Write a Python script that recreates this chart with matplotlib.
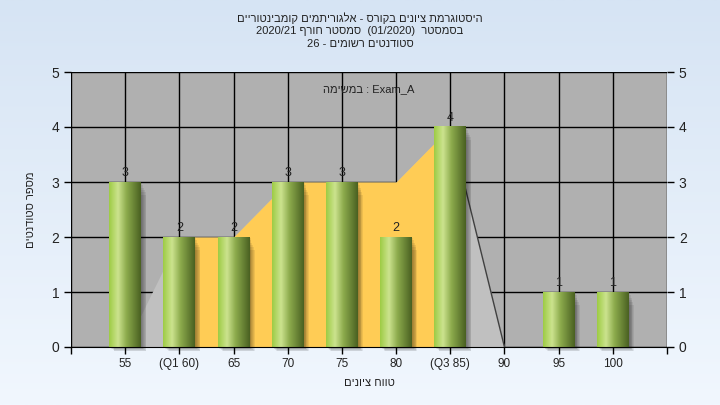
import matplotlib
matplotlib.use("Agg")
import matplotlib.pyplot as plt
import numpy as np
from matplotlib.colors import LinearSegmentedColormap

plt.rcParams['font.family'] = ['Liberation Sans', 'DejaVu Sans']

# data
grades = ['55', '(Q1 60)', '65', '70', '75', '80', '(Q3 85)', '90', '95', '100']
counts = [3, 2, 2, 3, 3, 2, 4, 0, 1, 1]
area_vals = [0, 2, 2, 3, 3, 3, 4, 0, 0, 0]
q1_idx, q3_idx = 1, 6

# hebrew texts in logical order, reversed for display (matplotlib has no bidi)
def rtl(s):
    return s[::-1]

title_l1 = rtl('היסטוגרמת ציונים בקורס - אלגוריתמים קומבינטוריים')
title_l2 = '2020/21 ' + rtl('סמסטר חורף') + '  (01/2020)  ' + rtl('בסמסטר')
title_l3 = '26 - ' + rtl('סטודנטים רשומים')
inner_txt = rtl('במשימה') + ' : Exam_A'
ylab = rtl('מספר סטודנטים')
xlab = rtl('טווח ציונים')

fig = plt.figure(figsize=(7.2, 4.05), dpi=100)

# background gradient
bg = fig.add_axes([0, 0, 1, 1], zorder=-10)
grad = np.linspace(0, 1, 256)[:, None]
top_c = np.array([214, 228, 244]) / 255
bot_c = np.array([241, 247, 254]) / 255
img = top_c[None, None, :] * (1 - grad[:, :, None]) + bot_c[None, None, :] * grad[:, :, None]
bg.imshow(img, aspect='auto', extent=(0, 1, 0, 1))
bg.set_axis_off()

ax = fig.add_axes([71 / 720, 1 - 347 / 405, 596 / 720, 275 / 405])
ax.set_facecolor('#B0B0B0')
x = np.arange(len(grades))

# areas behind bars
ax.fill_between(x, area_vals, 0, color='#C0C0C0', zorder=2, lw=0)
ax.fill_between(x[q1_idx:q3_idx + 1], area_vals[q1_idx:q3_idx + 1], 0,
                color='#FFCC55', zorder=2.1, lw=0)
ax.plot(x[q3_idx:q3_idx + 2], area_vals[q3_idx:q3_idx + 2], color='#404040', lw=1, zorder=2.2)
ax.plot(x[q3_idx + 1:], area_vals[q3_idx + 1:], color='#909090', lw=1, zorder=2.2)

# bars with gradient + soft shadow
w = 0.59
cmap = LinearSegmentedColormap.from_list('g', [
    (0.0, (0.62, 0.80, 0.27)),
    (0.28, (0.80, 0.89, 0.56)),
    (0.55, (0.55, 0.67, 0.30)),
    (1.0, (0.29, 0.38, 0.13))])
gimg = np.linspace(0, 1, 100)[None, :]
for xi, c in zip(x, counts):
    if c <= 0:
        continue
    for k in range(6):
        off = 0.02 + 0.015 * k
        ax.add_patch(plt.Rectangle((xi - w / 2 + off, -0.02 - 0.012 * k), w, c - 0.03 * k,
                                   color='black', alpha=0.07, lw=0, zorder=3, clip_on=False))
    ax.imshow(gimg, cmap=cmap, aspect='auto', extent=(xi - w / 2, xi + w / 2, 0, c),
              zorder=4, interpolation='bilinear')
    ax.text(xi, c + 0.06, str(c), ha='center', va='bottom', fontsize=9, color='#222222', zorder=5)

ax.set_xlim(-1, 10)
ax.set_ylim(0, 5)
ax.set_xticks(np.arange(-1, 11))
ax.set_xticklabels([''] + grades + [''], fontsize=8.5, color='#222222')
ax.set_yticks(range(6))
ax.tick_params(axis='y', labelsize=10, labelcolor='#222222', length=5, width=1,
               right=True, labelright=True, direction='out')
ax.tick_params(axis='x', length=5, width=1, direction='out', pad=3)
ax.grid(True, color='black', lw=1, zorder=1)
ax.set_axisbelow(True)
for s in ax.spines.values():
    s.set_visible(False)
ax.spines['bottom'].set_visible(True)
ax.spines['bottom'].set_zorder(6)

ax.text(0.5, 0.955, inner_txt, transform=ax.transAxes, ha='center', va='top', fontsize=8,
        color='#222222', zorder=6)
ax.set_ylabel(ylab, fontsize=8, labelpad=11, color='#222222')
ax.set_xlabel(xlab, fontsize=8, labelpad=6, color='#222222')

fig.text(0.5, 1 - 18 / 405, title_l1, ha='center', va='center', fontsize=8, color='#222222')
fig.text(0.5, 1 - 31 / 405, title_l2, ha='center', va='center', fontsize=8, color='#222222')
fig.text(0.5, 1 - 44 / 405, title_l3, ha='center', va='center', fontsize=8, color='#222222')

fig.savefig('out.png', dpi=100)
